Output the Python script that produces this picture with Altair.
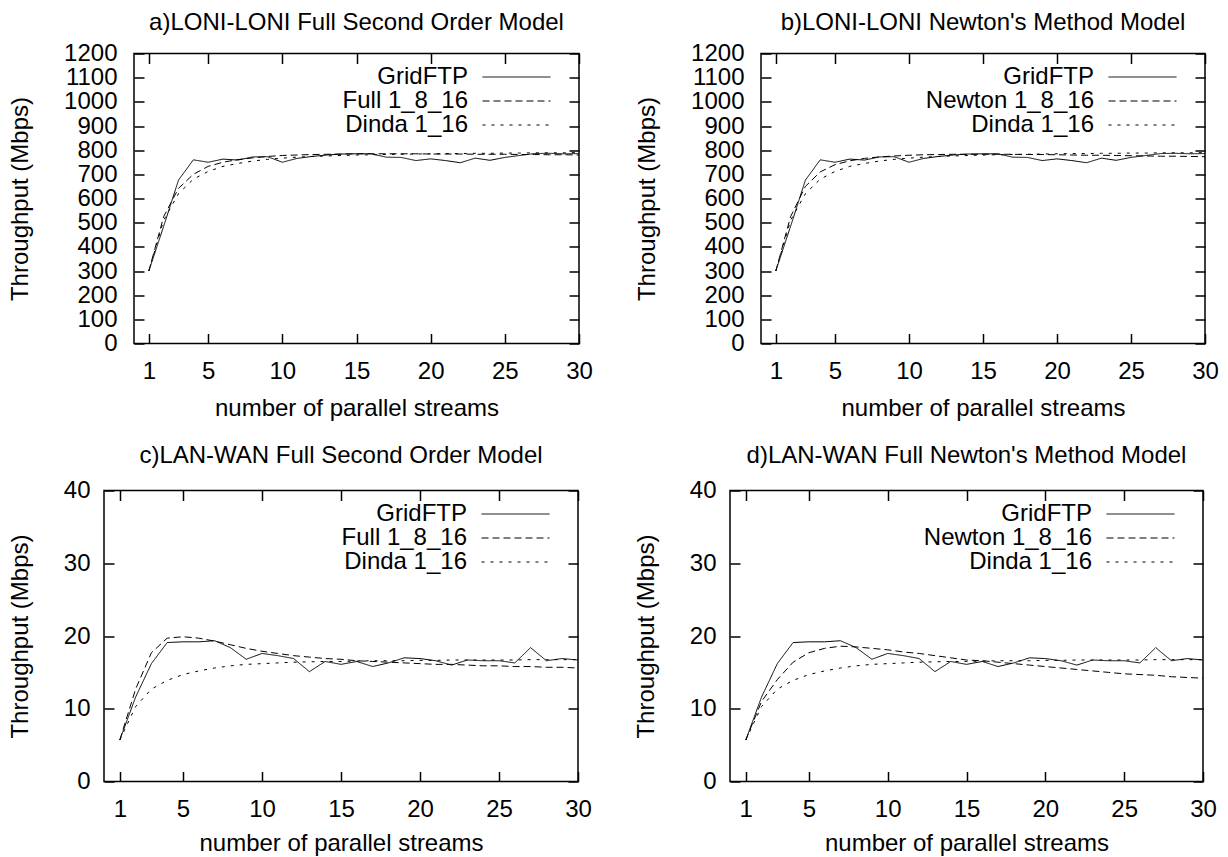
import altair as alt
import pandas as pd

streams = list(range(1, 31))

loni_gridftp = [300, 485, 676, 760, 750, 763, 759, 772, 773, 750,
                766, 774, 780, 784, 785, 785, 771, 770, 757, 764,
                757, 748, 767, 758, 770, 778, 786, 787, 785, 786]
loni_full = [300, 525, 642, 700, 733, 750, 761, 768, 774, 778,
             780, 782, 783, 784, 785, 785, 785, 785, 785, 784,
             784, 784, 783, 783, 783, 782, 782, 781, 781, 780]
loni_newton = [300, 525, 650, 710, 740, 756, 766, 772, 776, 779,
               781, 782, 783, 783, 783, 783, 783, 782, 782, 781,
               780, 779, 779, 778, 777, 776, 775, 775, 774, 773]
loni_dinda = [300, 510, 620, 680, 712, 733, 745, 755, 762, 767,
              771, 774, 776, 778, 780, 781, 782, 783, 784, 785,
              786, 786, 787, 787, 788, 788, 789, 789, 789, 790]

lan_gridftp = [5.7, 11.6, 16.2, 19.1, 19.2, 19.2, 19.35, 18.4, 16.8, 17.6,
               17.3, 16.9, 15.1, 16.5, 16.1, 16.5, 15.8, 16.3, 17.0, 16.9,
               16.6, 16.0, 16.7, 16.6, 16.6, 16.3, 18.4, 16.6, 16.9, 16.7]
lan_full = [5.7, 12.7, 17.7, 19.7, 19.9, 19.7, 19.3, 18.8, 18.3, 17.9,
            17.6, 17.3, 17.1, 16.9, 16.8, 16.6, 16.5, 16.4, 16.3, 16.2,
            16.1, 16.1, 16.0, 15.9, 15.9, 15.8, 15.8, 15.7, 15.7, 15.6]
lan_newton = [5.7, 11.0, 14.0, 16.4, 17.7, 18.3, 18.6, 18.5, 18.3, 18.1,
              17.8, 17.6, 17.3, 17.0, 16.7, 16.6, 16.4, 16.2, 16.0, 15.8,
              15.6, 15.4, 15.2, 15.0, 14.8, 14.7, 14.6, 14.4, 14.3, 14.2]
lan_dinda = [5.7, 10.3, 12.7, 13.9, 14.7, 15.2, 15.6, 15.9, 16.1, 16.2,
             16.3, 16.4, 16.45, 16.5, 16.5, 16.55, 16.6, 16.6, 16.6, 16.65,
             16.65, 16.7, 16.7, 16.7, 16.7, 16.7, 16.75, 16.75, 16.75, 16.75]

x_ticks = [1, 5, 10, 15, 20, 25, 30]

FONT = "Liberation Sans"
FS = 24
TICK = 10
# legend sample line drawn to the right of the right-aligned label
LEGEND_SYMBOL = "M2.65,0L9.45,0"


def panel(title, model_name, gridftp, model, dinda, ymax, ystep,
          width, height, label_pad, title_offset, xtitle_pad):
    names = ["GridFTP", model_name, "Dinda 1_16"]
    rows = []
    for s, vals in zip(names, [gridftp, model, dinda]):
        for x, y in zip(streams, vals):
            rows.append({"streams": x, "throughput": y, "series": s})
    df = pd.DataFrame(rows)
    xscale = alt.Scale(domain=[0, 30], nice=False, zero=False)
    yscale = alt.Scale(domain=[0, ymax], nice=False)
    y_ticks = list(range(0, ymax + 1, ystep))

    lines = alt.Chart(df).mark_line(color="black", strokeWidth=1).encode(
        x=alt.X("streams:Q", scale=xscale,
                axis=alt.Axis(title="number of parallel streams", orient="bottom",
                              values=x_ticks, offset=-TICK, tickSize=TICK,
                              domain=False, grid=False, labelPadding=16,
                              titlePadding=xtitle_pad, labelFlush=False,
                              labelOverlap=False)),
        y=alt.Y("throughput:Q", scale=yscale,
                axis=alt.Axis(title="Throughput (Mbps)", orient="left",
                              values=y_ticks, format="d", offset=-TICK,
                              tickSize=TICK, domain=False, grid=False,
                              labelPadding=label_pad, titlePadding=31,
                              labelOverlap=False, labelFlush=False)),
        strokeDash=alt.StrokeDash(
            "series:N",
            scale=alt.Scale(domain=names, range=[[1, 0], [7, 4], [3, 6]]),
            legend=alt.Legend(title=None, orient="none",
                              legendX=width - 135, legendY=11.5,
                              symbolType=LEGEND_SYMBOL, symbolSize=400,
                              symbolStrokeWidth=1, symbolStrokeColor="black",
                              symbolFillColor="transparent",
                              labelAlign="right", labelOffset=0,
                              labelLimit=400, rowPadding=0,
                              padding=0, labelFont=FONT, labelFontSize=FS,
                              labelColor="black")),
    )

    mirror = alt.Chart(df).mark_point(opacity=0, size=1).encode(
        x=alt.X("streams:Q", scale=xscale,
                axis=alt.Axis(title=None, orient="top", values=x_ticks,
                              offset=-TICK, tickSize=TICK, domain=False,
                              grid=False, labels=False)),
        y=alt.Y("throughput:Q", scale=yscale,
                axis=alt.Axis(title=None, orient="right", values=y_ticks,
                              offset=-TICK, tickSize=TICK, domain=False,
                              grid=False, labels=False)),
    )

    return alt.layer(lines, mirror).resolve_axis(
        x="independent", y="independent"
    ).properties(
        width=width, height=height,
        title=alt.TitleParams(text=title, anchor="middle", frame="group",
                              offset=title_offset, font=FONT, fontSize=FS,
                              fontWeight="normal", color="black"),
    )


def spacer():
    return alt.Chart(pd.DataFrame({"v": [0]})).mark_point(opacity=0).encode(
        x=alt.X("v:Q", axis=None), y=alt.Y("v:Q", axis=None)
    ).properties(width=1, height=1,
                 view=alt.ViewBackground(stroke="transparent"))


a = panel("a)LONI-LONI Full Second Order Model", "Full 1_8_16",
          loni_gridftp, loni_full, loni_dinda, 1200, 100, 445, 290, 17, 6.5, 13)
b = panel("b)LONI-LONI Newton's Method Model", "Newton 1_8_16",
          loni_gridftp, loni_newton, loni_dinda, 1200, 100, 444, 290, 17, 6.5, 13)
c = panel("c)LAN-WAN Full Second Order Model", "Full 1_8_16",
          lan_gridftp, lan_full, lan_dinda, 40, 10, 474, 291, 14, 10.5, 10)
d = panel("d)LAN-WAN Full Newton's Method Model", "Newton 1_8_16",
          lan_gridftp, lan_newton, lan_dinda, 40, 10, 473, 291, 14, 10.5, 10)

pair1 = alt.hconcat(a, b, spacing=40).resolve_scale(strokeDash="independent")
pair2 = alt.hconcat(c, d, spacing=40).resolve_scale(strokeDash="independent")
row1 = alt.hconcat(spacer(), pair1, spacing=0).resolve_scale(strokeDash="independent")
row2 = alt.hconcat(spacer(), pair2, spacing=0).resolve_scale(strokeDash="independent")

chart = alt.vconcat(row1, row2, spacing=21).resolve_scale(
    strokeDash="independent"
).properties(
    padding={"left": 0, "top": 9.5, "right": 0, "bottom": 0}
).configure_view(
    stroke="black", strokeWidth=1.5
).configure_axis(
    labelFont=FONT, labelFontSize=FS, titleFont=FONT, titleFontSize=FS,
    titleFontWeight="normal", labelColor="black", titleColor="black",
    tickColor="black", tickWidth=1.5
).configure_legend(
    labelFont=FONT, labelFontSize=FS
)

chart.save("out.html", embed_options={"renderer": "svg", "actions": False})
